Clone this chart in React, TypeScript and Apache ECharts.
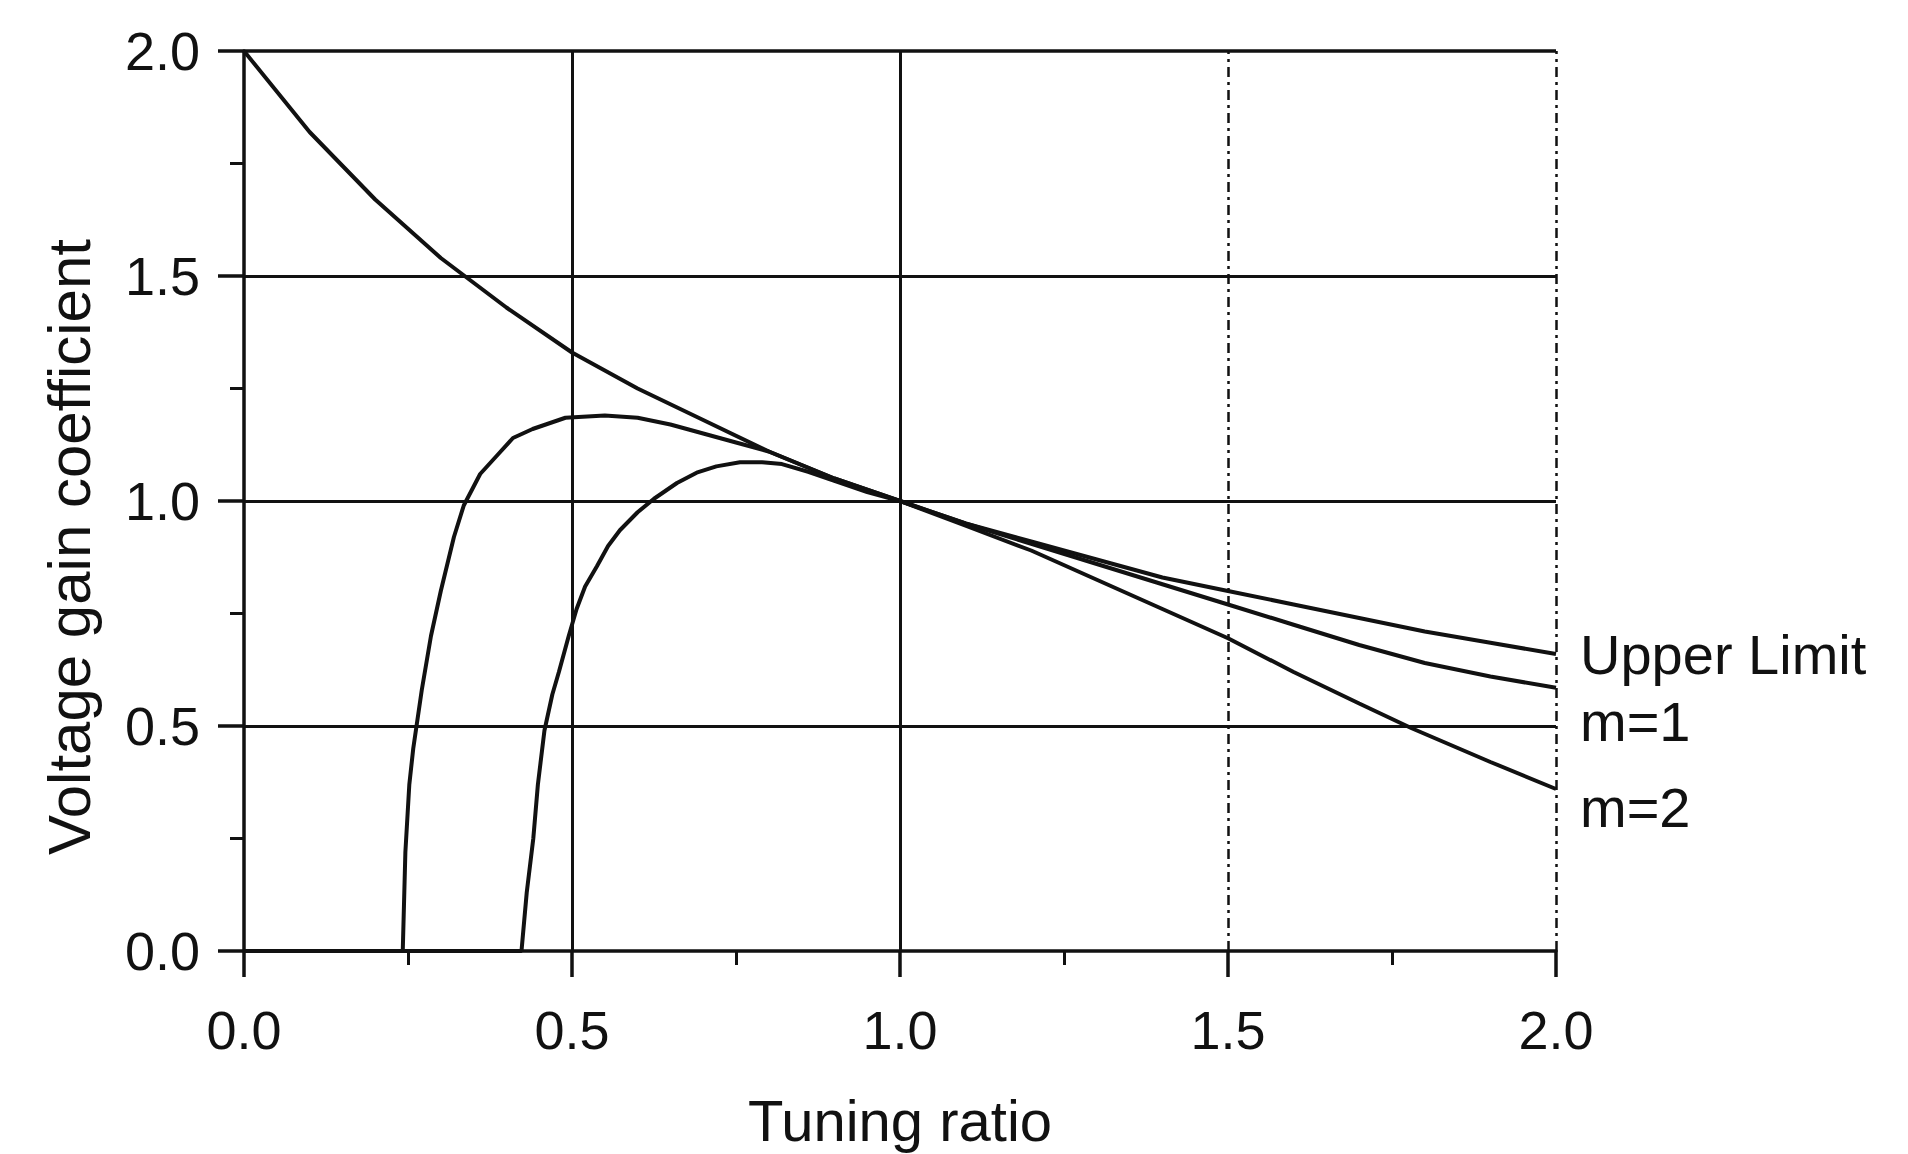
import React, { useEffect, useRef } from "react";
import * as echarts from "echarts";

const xTitle = "Tuning ratio";
const yTitle = "Voltage gain coefficient";

const upperName = "Upper Limit";
const upperX = [0, 0.1, 0.2, 0.3, 0.4, 0.5, 0.6, 0.7, 0.8, 0.9, 1.0, 1.1, 1.2, 1.3, 1.4, 1.5, 1.6, 1.7, 1.8, 1.9, 2.0];
const upperY = [2.0, 1.82, 1.67, 1.54, 1.43, 1.33, 1.25, 1.18, 1.11, 1.05, 1.0, 0.95, 0.91, 0.87, 0.83, 0.8, 0.77, 0.74, 0.71, 0.685, 0.66];

const m1Name = "m=1";
const m1X = [0, 0.242, 0.246, 0.252, 0.258, 0.264, 0.271, 0.285, 0.3, 0.32, 0.335, 0.36, 0.385, 0.41, 0.44, 0.49, 0.55, 0.6, 0.65, 0.7, 0.75, 0.8, 0.85, 0.9, 0.95, 1.0, 1.1, 1.2, 1.3, 1.4, 1.5, 1.6, 1.7, 1.8, 1.9, 2.0];
const m1Y = [0, 0, 0.22, 0.37, 0.45, 0.51, 0.58, 0.7, 0.8, 0.92, 0.99, 1.06, 1.1, 1.14, 1.16, 1.185, 1.19, 1.185, 1.17, 1.15, 1.13, 1.11, 1.08, 1.05, 1.025, 1.0, 0.95, 0.905, 0.86, 0.815, 0.77, 0.725, 0.68, 0.64, 0.61, 0.585];

const m2Name = "m=2";
const m2X = [0, 0.423, 0.431, 0.441, 0.448, 0.458, 0.47, 0.48, 0.495, 0.507, 0.52, 0.538, 0.555, 0.573, 0.6, 0.625, 0.66, 0.69, 0.72, 0.756, 0.79, 0.82, 0.86, 0.9, 0.95, 1.0, 1.1, 1.2, 1.3, 1.4, 1.5, 1.6, 1.7, 1.78, 1.9, 2.0];
const m2Y = [0, 0, 0.13, 0.25, 0.37, 0.49, 0.57, 0.62, 0.7, 0.76, 0.81, 0.855, 0.9, 0.935, 0.975, 1.005, 1.04, 1.063, 1.077, 1.086, 1.086, 1.082, 1.065, 1.045, 1.02, 1.0, 0.945, 0.89, 0.825, 0.76, 0.695, 0.62, 0.55, 0.495, 0.42, 0.36];

// gridlines: value and style
const vGridValues = [0.5, 1.0, 1.5, 2.0];
const vGridTypes = ["solid", "solid", "dashed", "dashed"];
const hGridValues = [0.5, 1.0, 1.5, 2.0];
const hGridTypes = ["solid", "solid", "solid", "solid"];

const FONT = "'Liberation Sans', Arial, sans-serif";

function pairs(xs: number[], ys: number[]) {
  return xs.map((x, i) => [x, ys[i]]);
}

export default function App() {
  const ref = useRef<HTMLDivElement>(null);
  useEffect(() => {
    if (!ref.current) return;
    const chart = echarts.init(ref.current, undefined, { renderer: "svg" });
    const gridLines: any[] = [];
    vGridValues.forEach((v, i) =>
      gridLines.push({
        xAxis: v,
        lineStyle: { color: "#111", width: vGridTypes[i] === "solid" ? 3 : 2.5, type: vGridTypes[i] === "solid" ? "solid" : [10, 5, 3, 5] },
      })
    );
    hGridValues.forEach((v, i) =>
      gridLines.push({
        yAxis: v,
        lineStyle: { color: "#111", width: v === 2.0 ? 3.5 : 3, type: hGridTypes[i] },
      })
    );
    const lineSeries = (name: string, data: number[][], offset: number[]) => ({
      name,
      type: "line",
      data,
      showSymbol: false,
      symbol: "none",
      smooth: false,
      clip: false,
      lineStyle: { color: "#111", width: 4 },
      z: 5,
      endLabel: {
        show: true,
        formatter: name,
        color: "#111",
        fontFamily: FONT,
        fontSize: 56,
        distance: 24,
        offset,
      },
    });
    chart.setOption({
      animation: false,
      backgroundColor: "#ffffff",
      grid: { left: 244, right: 352, top: 51, bottom: 193, containLabel: false },
      xAxis: {
        type: "value",
        min: 0,
        max: 2,
        interval: 0.5,
        name: xTitle,
        nameLocation: "middle",
        nameGap: 140,
        nameTextStyle: { color: "#111", fontFamily: FONT, fontSize: 58 },
        axisLine: { show: true, onZero: false, lineStyle: { color: "#111", width: 3.5 } },
        axisTick: { show: true, length: 26, lineStyle: { color: "#111", width: 3.5 } },
        minorTick: { show: true, splitNumber: 2, length: 14, lineStyle: { color: "#111", width: 3 } },
        axisLabel: {
          color: "#111",
          fontFamily: FONT,
          fontSize: 54,
          margin: 52,
          formatter: (v: number) => v.toFixed(1),
        },
        splitLine: { show: false },
      },
      yAxis: {
        type: "value",
        min: 0,
        max: 2,
        interval: 0.5,
        name: yTitle,
        nameLocation: "middle",
        nameGap: 145,
        nameTextStyle: { color: "#111", fontFamily: FONT, fontSize: 60, padding: [0, 92, 0, 0] },
        axisLine: { show: true, onZero: false, lineStyle: { color: "#111", width: 3.5 } },
        axisTick: { show: true, length: 26, lineStyle: { color: "#111", width: 3.5 } },
        minorTick: { show: true, splitNumber: 2, length: 14, lineStyle: { color: "#111", width: 3 } },
        axisLabel: {
          color: "#111",
          fontFamily: FONT,
          fontSize: 54,
          margin: 44,
          formatter: (v: number) => v.toFixed(1),
        },
        splitLine: { show: false },
      },
      series: [
        {
          ...lineSeries(upperName, pairs(upperX, upperY), [0, 0]),
          markLine: {
            silent: true,
            symbol: ["none", "none"],
            label: { show: false },
            data: gridLines,
            z: 1,
          },
        },
        lineSeries(m1Name, pairs(m1X, m1Y), [0, 34]),
        lineSeries(m2Name, pairs(m2X, m2Y), [0, 18]),
      ],
    });
    return () => chart.dispose();
  }, []);
  return (
    <div
      ref={ref}
      style={{ position: "fixed", left: 0, top: 0, width: 1908, height: 1154, background: "#fff" }}
    />
  );
}
